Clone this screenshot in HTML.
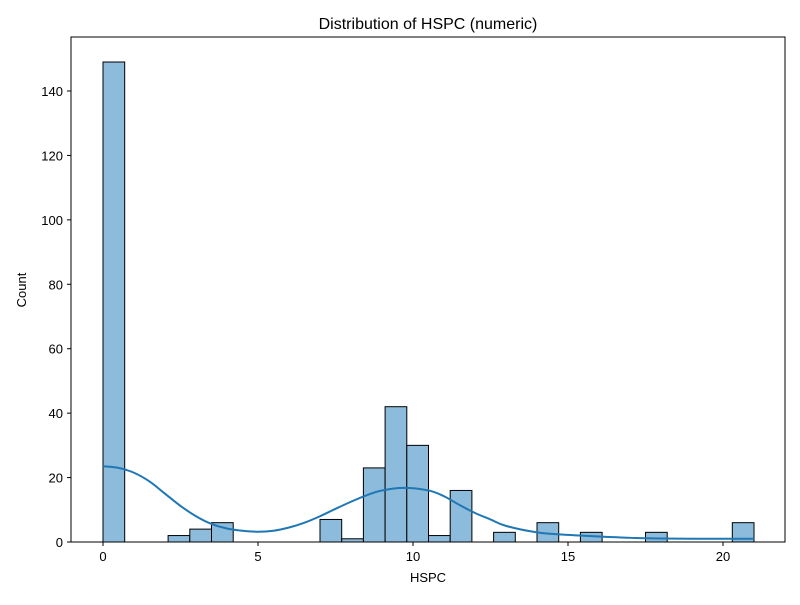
<!DOCTYPE html>
<html><head><meta charset="utf-8"><style>
body{margin:0;background:#fff;}
svg text{font-family:"Liberation Sans","DejaVu Sans",sans-serif;fill:#000;}
</style></head><body>
<svg id="chart" width="800" height="600" viewBox="0 0 800 600">
<rect width="800" height="600" fill="#fff"/>
<text x="428" y="29" font-size="16" text-anchor="middle">Distribution of HSPC (numeric)</text>
<g id="bars"></g>
<g id="xticks"></g>
<g id="yticks"></g>
<path id="kde" fill="none" stroke="#1f77b4" stroke-width="2"/>
<rect x="71" y="37" width="714" height="505" fill="none" stroke="#000" stroke-width="1"/>
<text x="428" y="582" font-size="13" text-anchor="middle">HSPC</text>
<text x="26" y="290" font-size="13" text-anchor="middle" transform="rotate(-90 26 290)">Count</text>
</svg>
<script>
const binStart = 0;
const binWidth = 0.7;
const counts = [149,0,0,2,4,6,0,0,0,0,7,1,23,42,30,2,16,0,3,0,6,0,3,0,0,3,0,0,0,6];
const xTicks = [0,5,10,15,20];
const yTicks = [0,20,40,60,80,100,120,140];
const kdeX = [0,0.5,1,1.5,2,2.5,3,3.5,4,4.5,5,5.5,6,6.5,7,7.5,8,8.5,9,9.7,10.5,11,11.5,12,12.5,13,14,15,16,17,18,19,20,21];
const kdeY = [23.5,23,21.5,18.8,15,11.2,8,5.6,4.2,3.5,3.2,3.5,4.5,6,8,10.3,12.5,14.5,16,16.8,16,14.2,11.5,9,7,5,3,2.2,1.7,1.3,1.1,1,1,1];

const NS="http://www.w3.org/2000/svg";
const sx = v => 103 + v*31;
const sy = v => 542 - v*(451/140);
const bars=document.getElementById('bars');
counts.forEach((c,i)=>{
  if(c<=0) return;
  const r=document.createElementNS(NS,'rect');
  const x0=sx(binStart+i*binWidth), x1=sx(binStart+(i+1)*binWidth);
  r.setAttribute('x',x0);r.setAttribute('width',x1-x0);
  r.setAttribute('y',sy(c));r.setAttribute('height',sy(0)-sy(c));
  r.setAttribute('fill','#8dbbdc');r.setAttribute('stroke','#000');r.setAttribute('stroke-width','1');
  
  
  bars.appendChild(r);
});
const xg=document.getElementById('xticks');
xTicks.forEach(t=>{
  const l=document.createElementNS(NS,'line');
  l.setAttribute('x1',sx(t));l.setAttribute('x2',sx(t));l.setAttribute('y1',542);l.setAttribute('y2',546);l.setAttribute('stroke','#000');
  
  
  xg.appendChild(l);
  const tx=document.createElementNS(NS,'text');
  tx.setAttribute('x',sx(t));tx.setAttribute('y',561);tx.setAttribute('font-size','13');tx.setAttribute('text-anchor','middle');
  tx.textContent=t;
  
  
  xg.appendChild(tx);
});
const yg=document.getElementById('yticks');
yTicks.forEach(t=>{
  const l=document.createElementNS(NS,'line');
  l.setAttribute('x1',67);l.setAttribute('x2',71);l.setAttribute('y1',sy(t));l.setAttribute('y2',sy(t));l.setAttribute('stroke','#000');
  
  
  yg.appendChild(l);
  const tx=document.createElementNS(NS,'text');
  tx.setAttribute('x',63);tx.setAttribute('y',sy(t)+5);tx.setAttribute('font-size','13');tx.setAttribute('text-anchor','end');
  tx.textContent=t;
  
  
  yg.appendChild(tx);
});
// Catmull-Rom smoothing of KDE points
const pts=kdeX.map((x,i)=>[sx(x),sy(kdeY[i])]);
let d='M'+pts[0][0]+','+pts[0][1];
for(let i=0;i<pts.length-1;i++){
  const p0=pts[i-1]||pts[i],p1=pts[i],p2=pts[i+1],p3=pts[i+2]||p2;
  const c1=[p1[0]+(p2[0]-p0[0])/6,p1[1]+(p2[1]-p0[1])/6];
  const c2=[p2[0]-(p3[0]-p1[0])/6,p2[1]-(p3[1]-p1[1])/6];
  d+=' C'+c1+' '+c2+' '+p2;
}
document.getElementById('kde').setAttribute('d',d);
</script>
</body></html>
